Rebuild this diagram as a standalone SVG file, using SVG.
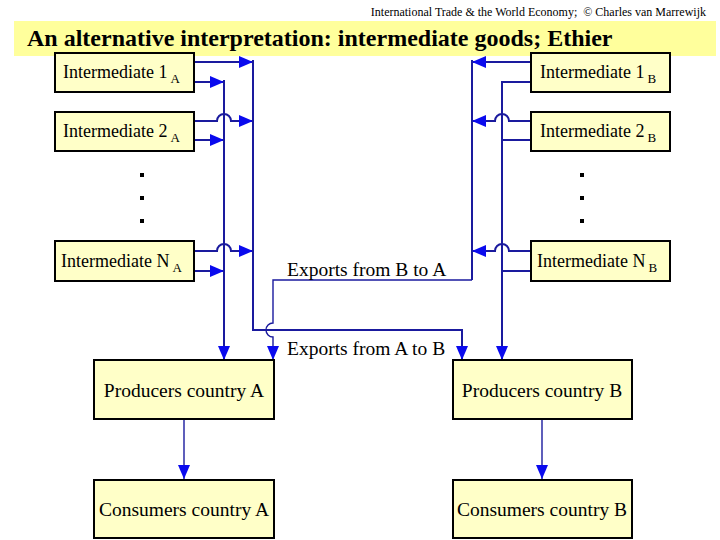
<svg xmlns="http://www.w3.org/2000/svg" width="720" height="540" viewBox="0 0 720 540">
<defs>
<style>
.box{fill:#FFFFC8;stroke:#000;stroke-width:2}
.lbl{font-family:"Liberation Serif","Times New Roman",serif;font-size:18px;fill:#000}
.big{font-family:"Liberation Serif","Times New Roman",serif;font-size:19.5px;fill:#000}
.sub{font-size:13px}
.ln{fill:none;stroke:#1A1A9E;stroke-width:2}
.thin{fill:none;stroke:#1A1A9E;stroke-width:1.4}
.dot{fill:#000}
</style>
<marker id="ah" viewBox="0 0 14 12" markerUnits="userSpaceOnUse" markerWidth="14" markerHeight="12" refX="14" refY="6" orient="auto">
<path d="M0,0 L14,6 L0,12 Z" fill="#0A0AEE"/>
</marker>
</defs>
<rect width="720" height="540" fill="#FFFFFF"/>
<text x="706" y="16" text-anchor="end" font-family="Liberation Serif, Times New Roman, serif" font-size="12" xml:space="preserve">International Trade &amp; the World Economy;  © Charles van Marrewijk</text>
<rect x="14" y="21" width="702" height="35" fill="#FFFF9C"/>
<text x="27" y="46" font-family="Liberation Serif, Times New Roman, serif" font-size="24" font-weight="bold">An alternative interpretation: intermediate goods; Ethier</text>

<g id="connectors">
<path class="ln" d="M194,62 H253" marker-end="url(#ah)"/>
<path class="ln" d="M194,82 H224" marker-end="url(#ah)"/>
<path class="ln" d="M194,121 H217 A7,7 0 0 1 231,121 H253" marker-end="url(#ah)"/>
<path class="ln" d="M194,140 H224" marker-end="url(#ah)"/>
<path class="ln" d="M194,251 H217 A7,7 0 0 1 231,251 H253" marker-end="url(#ah)"/>
<path class="ln" d="M194,271 H224" marker-end="url(#ah)"/>
<path class="ln" d="M224,80 V360" marker-end="url(#ah)"/>
<path class="ln" d="M253,60 V330 H462 V360" marker-end="url(#ah)"/>
<path class="ln" d="M472,60 V280" />
<path class="thin" d="M472,280 H273 V323 A7,7 0 0 0 273,337 V360" marker-end="url(#ah)"/>
<path class="ln" d="M531,62 H472" marker-end="url(#ah)"/>
<path class="ln" d="M531,82 H502"/>
<path class="ln" d="M531,121 H509 A7,7 0 0 0 495,121 H472" marker-end="url(#ah)"/>
<path class="ln" d="M531,140 H502"/>
<path class="ln" d="M531,251 H509 A7,7 0 0 0 495,251 H472" marker-end="url(#ah)"/>
<path class="ln" d="M531,271 H502"/>
<path class="ln" d="M502,81 V360" marker-end="url(#ah)"/>
<path class="thin" d="M184,420 V479" marker-end="url(#ah)"/>
<path class="thin" d="M542,420 V479" marker-end="url(#ah)"/>
<text class="big" x="287" y="276">Exports from B to A</text>
<text class="big" x="287" y="355">Exports from A to B</text>
</g>

<g id="int1A"><rect class="box" x="55" y="53" width="139" height="39"/><text class="lbl" x="63" y="78">Intermediate 1<tspan class="sub" dx="3" dy="5">A</tspan></text></g>
<g id="int2A"><rect class="box" x="55" y="112" width="139" height="39"/><text class="lbl" x="63" y="137">Intermediate 2<tspan class="sub" dx="3" dy="5">A</tspan></text></g>
<g id="intNA"><rect class="box" x="55" y="241" width="139" height="40"/><text class="lbl" x="61" y="267">Intermediate N<tspan class="sub" dx="3" dy="5">A</tspan></text></g>
<g id="int1B"><rect class="box" x="531" y="53" width="139" height="39"/><text class="lbl" x="540" y="78">Intermediate 1<tspan class="sub" dx="3" dy="5">B</tspan></text></g>
<g id="int2B"><rect class="box" x="531" y="112" width="139" height="39"/><text class="lbl" x="540" y="137">Intermediate 2<tspan class="sub" dx="3" dy="5">B</tspan></text></g>
<g id="intNB"><rect class="box" x="531" y="241" width="139" height="40"/><text class="lbl" x="537" y="267">Intermediate N<tspan class="sub" dx="3" dy="5">B</tspan></text></g>

<g id="dotsA"><rect class="dot" x="140" y="173" width="4" height="4"/><rect class="dot" x="140" y="196" width="4" height="4"/><rect class="dot" x="140" y="219" width="4" height="4"/></g>
<g id="dotsB"><rect class="dot" x="580" y="173" width="4" height="4"/><rect class="dot" x="580" y="196" width="4" height="4"/><rect class="dot" x="580" y="219" width="4" height="4"/></g>

<g id="prodA"><rect class="box" x="94" y="360" width="180" height="59"/><text class="big" x="184" y="397" text-anchor="middle">Producers country A</text></g>
<g id="prodB"><rect class="box" x="453" y="360" width="179" height="59"/><text class="big" x="542" y="397" text-anchor="middle">Producers country B</text></g>
<g id="consA"><rect class="box" x="94" y="480" width="180" height="58"/><text class="big" x="184" y="516" text-anchor="middle">Consumers country A</text></g>
<g id="consB"><rect class="box" x="453" y="480" width="179" height="58"/><text class="big" x="542" y="516" text-anchor="middle">Consumers country B</text></g>
</svg>
